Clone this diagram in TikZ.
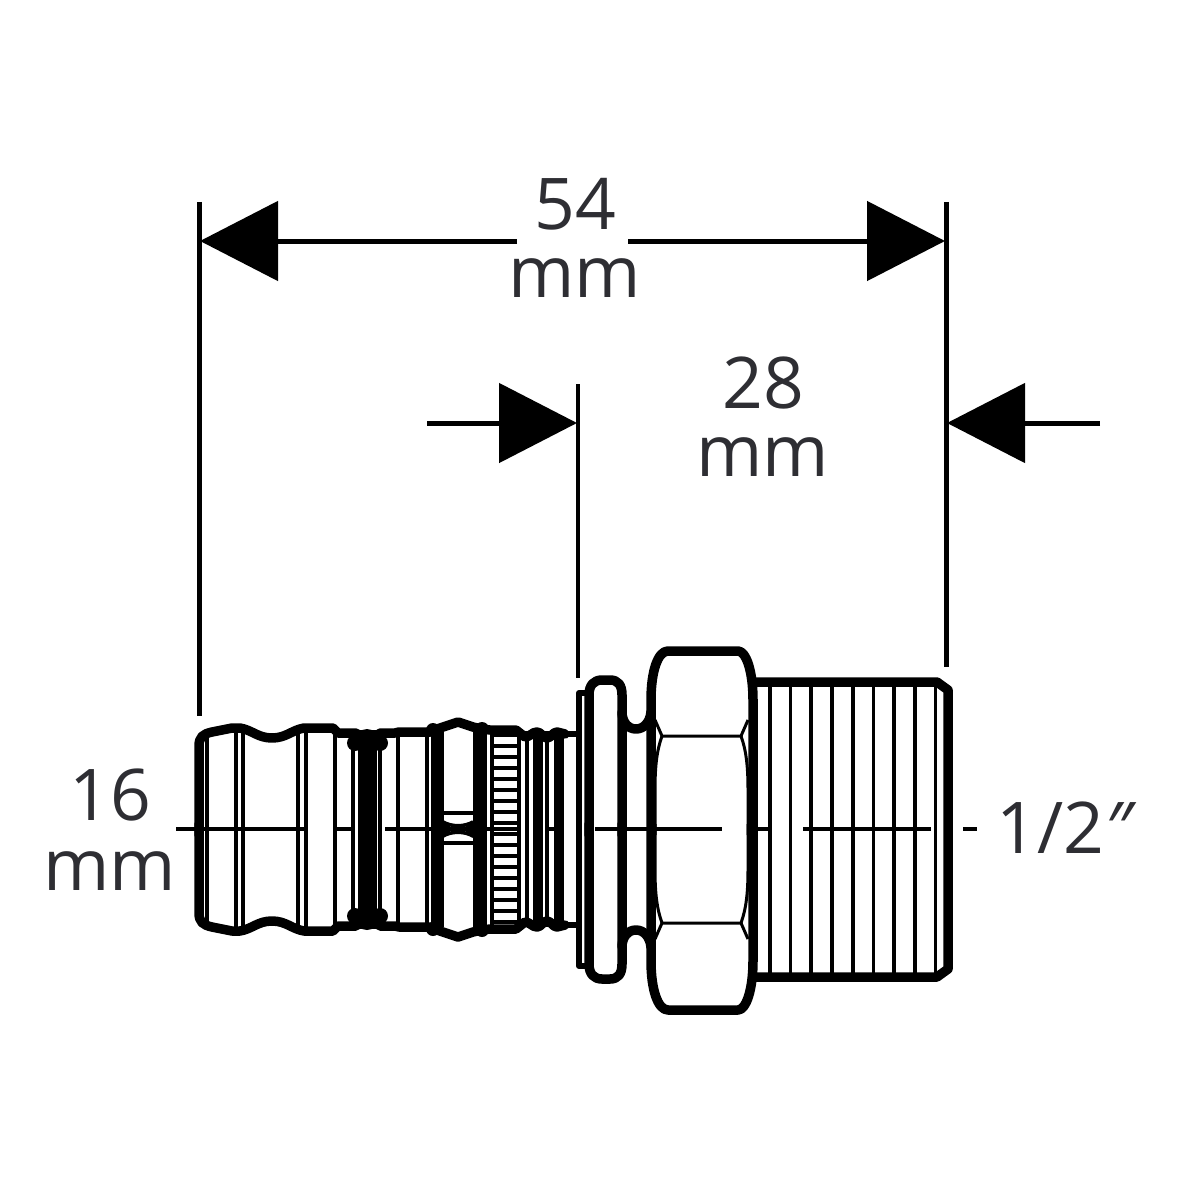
\documentclass[tikz,border=0pt]{standalone}
\usepackage{fontspec}
\setmainfont{Open Sans}
\usetikzlibrary{arrows.meta}
\definecolor{dimtext}{HTML}{2E2E33}
\tikzset{
  dimline/.style={line width=0.5mm,-{Triangle[length=7.8mm,width=7.9mm]}},
  dimrule/.style={line width=0.5mm},
  dimlabel/.style={anchor=base,inner sep=0pt,text=dimtext,font=\fontsize{20.3}{20.3}\selectfont},
  thinrib/.style={line width=0.36mm},
  midrib/.style={line width=0.45mm},
  heavyrib/.style={line width=0.95mm},
  outline/.style={line width=0.95mm,line join=round,line cap=round},
  hexline/.style={line width=0.3mm},
}
\newcommand{\fittinghalf}{
\draw[outline] (199,835) -- (199,746) .. controls (199,737) and (203,734) .. (212,732) -- (232,728) -- (240,728)
  .. controls (252,730) and (258,738) .. (272,738) .. controls (286,738) and (292,730) .. (304,728)
  -- (333,728) -- (338,733) -- (356,733);
\draw[outline] (380,733) -- (395,733) -- (399,732) -- (430,732) -- (440,728) -- (458,722) -- (473,727) -- (482,729)
  -- (490,730) -- (516,730) -- (525,737) .. controls (530,737) and (532,732) .. (537,732)
  .. controls (541,732) and (543,738) .. (547,738) .. controls (551,738) and (553,732) .. (557,732) -- (565,734);
\draw[line width=0.6mm] (565,734) -- (577,734);
\fill (367,741) circle (12);
\fill (355,743) circle (8);
\fill (380,743) circle (8);
\fill (433,730) circle (7);
\fill (482,729) circle (7);
\draw[line width=0.6mm,line join=round] (579,835) -- (579,693) -- (588,693);
\draw[outline] (589,835) -- (589,695) .. controls (589,685) and (594,680) .. (602,680) -- (610,680)
  .. controls (618,680) and (622,685) .. (622,695) -- (622,835);
\draw[outline] (622,712) .. controls (622,722) and (628,729) .. (636,729)
  .. controls (644,729) and (650,722) .. (651,712);
\draw[hexline] (655,720) -- (662,736) -- (741,736) -- (748,720);
\draw[hexline] (662,736) .. controls (657,750) and (655,765) .. (655,790) -- (655,835);
\draw[hexline] (741,736) .. controls (746,750) and (748,765) .. (748,790) -- (748,835);
\draw[hexline] (937,684) -- (945,690);
\fill (443,821) -- (451,827) -- (443,833) -- cycle;
\fill (473,821) -- (465,827) -- (473,833) -- cycle;
}
\begin{document}
\begin{tikzpicture}[x=0.1mm,y=-0.1mm]
\useasboundingbox (0,0) rectangle (1200,1200);
\coordinate (leftstop) at (199,202);
\coordinate (leftfoot) at (199,716);
\coordinate (rightstop) at (946,202);
\coordinate (rightfoot) at (946,667);
\coordinate (midstop) at (578,384);
\coordinate (midfoot) at (578,678);
\coordinate (longtipL) at (200,241);
\coordinate (longgapL) at (517,241);
\coordinate (longgapR) at (628,241);
\coordinate (longtipR) at (945,241);
\coordinate (shortinL) at (427,423);
\coordinate (shorttipL) at (577,423);
\coordinate (shortinR) at (1100,423);
\coordinate (shorttipR) at (947,423);
\draw[dimrule] (leftstop) -- (leftfoot);
\draw[dimrule] (rightstop) -- (rightfoot);
\draw[line width=0.4mm] (midstop) -- (midfoot);
\draw[dimline] (longgapL) -- (longtipL);
\draw[dimline] (longgapR) -- (longtipR);
\draw[dimline] (shortinL) -- (shorttipL);
\draw[dimline] (shortinR) -- (shorttipR);
\node[dimlabel] (longnum) at (575,230) {54};
\node[dimlabel] (longunit) at (575,298) {mm};
\node[dimlabel] (shortnum) at (763,408) {28};
\node[dimlabel] (shortunit) at (763,476) {mm};
\node[dimlabel] (pipenum) at (110,820) {16};
\node[dimlabel] (pipeunit) at (110,890) {mm};
\node[dimlabel,anchor=base west] (threadsize) at (996,853) {1/2\textit{″}};
\foreach \x in {207,236,243,298,306,335,353,380,398,427,433,485,527,547}
  \draw[thinrib] (\x,731) -- (\x,927);
\foreach \x in {769.7,790.3,811,832,852.7,873.3,894,914.7,935.3}
  \draw[thinrib] (\x,682) -- (\x,977);
\foreach \x in {439,478,538,559}
  \draw[heavyrib] (\x,732) -- (\x,927);
\foreach \x in {492,519}
  \draw[midrib] (\x,730) -- (\x,928);
\foreach \y in {735,746,...,925}
  \draw[midrib] (492,\y) -- (519,\y);
\fill (358,730) rectangle (377,929);
\draw[thinrib] (443,813) -- (473,813);
\draw[thinrib] (443,843) -- (473,843);
\draw[thinrib] (443,822) .. controls (452,827) and (464,827) .. (473,822);
\draw[thinrib] (443,836) .. controls (452,831) and (464,831) .. (473,836);
\foreach \a/\b in {176/305,337/353,385/517,545/555,595/722,758/768,803/931}
  \draw[line width=0.4mm] (\a,829) -- (\b,829);
\draw[midrib] (963,829) -- (977,829);
\fittinghalf
\begin{scope}[shift={(0,1659)},yscale=-1]
\fittinghalf
\end{scope}
\draw[outline] (651,700) -- (651,961) .. controls (651,990) and (658,1010) .. (668,1010) -- (738,1010)
  .. controls (746,1010) and (753,990) .. (753,961) -- (753,700) .. controls (753,671) and (746,651) .. (738,651)
  -- (668,651) .. controls (658,651) and (651,671) .. (651,700) -- cycle;
\draw[outline] (753,682) -- (937,682) -- (948,690) -- (948,969) -- (937,977) -- (753,977);
\end{tikzpicture}
\end{document}
